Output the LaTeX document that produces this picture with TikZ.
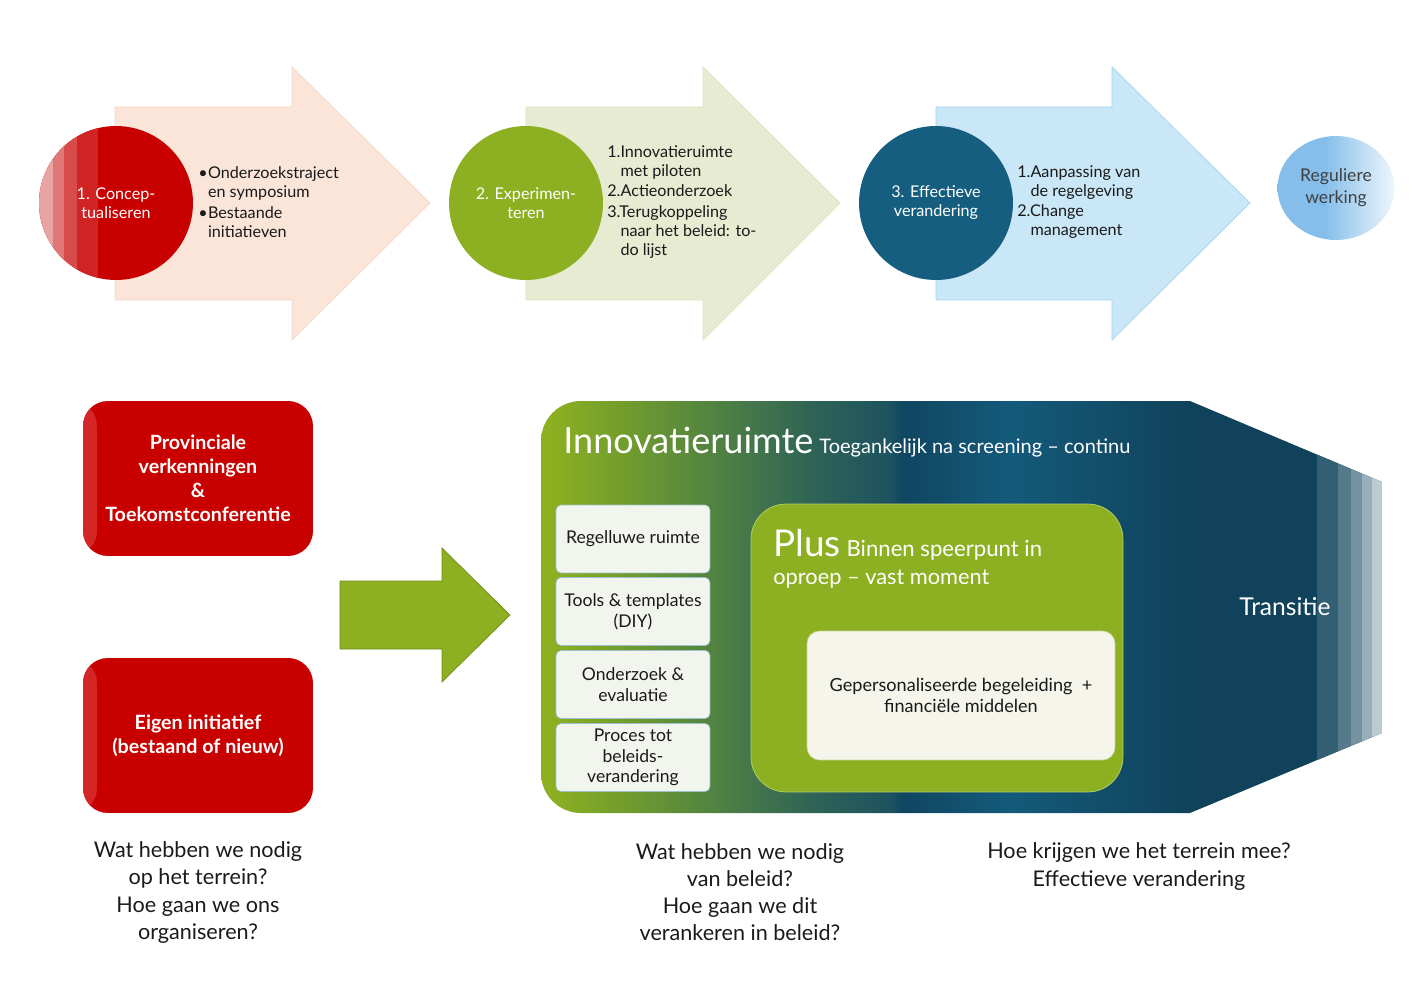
\documentclass[tikz,border=0pt]{standalone}
\usepackage{fontspec}
\setmainfont{Lato}
\usepackage{xcolor}
\usetikzlibrary{positioning, calc, shapes.geometric}

\definecolor{peach}{HTML}{FBE5D9}
\definecolor{peachline}{HTML}{F5D6C6}
\definecolor{sage}{HTML}{E6EBD1}
\definecolor{sageline}{HTML}{DCE3C2}
\definecolor{skyblue}{HTML}{C9E7F7}
\definecolor{skyline}{HTML}{A6D4EE}
\definecolor{vlred}{HTML}{C80000}
\definecolor{redlight}{HTML}{D42626}
\definecolor{redA}{HTML}{E9A3A3}
\definecolor{redB}{HTML}{E07777}
\definecolor{redC}{HTML}{D84B4B}
\definecolor{redD}{HTML}{D02323}
\definecolor{vlgreen}{HTML}{8CB021}
\definecolor{greenline}{HTML}{6F8D1A}
\definecolor{plusline}{HTML}{B7D06E}
\definecolor{vlteal}{HTML}{165E80}
\definecolor{regA}{HTML}{85BEEA}
\definecolor{regB}{HTML}{EEF6FC}
\definecolor{boxfill}{HTML}{F2F4EE}
\definecolor{boxline}{HTML}{9EC0C9}
\definecolor{innerfill}{HTML}{F5F5EC}
\definecolor{innerline}{HTML}{C9D79F}
\definecolor{txt}{HTML}{1A1A1A}
% verloop innovatieruimte
\definecolor{gradA}{HTML}{8DB021}
\definecolor{gradB}{HTML}{6F9B2E}
\definecolor{gradC}{HTML}{4F8143}
\definecolor{gradD}{HTML}{2F6456}
\definecolor{gradE}{HTML}{1D5260}
\definecolor{gradF}{HTML}{104662}
\definecolor{gradG}{HTML}{145A7A}
\definecolor{gradH}{HTML}{10425B}
\definecolor{tstripeA}{HTML}{325F74}
\definecolor{tstripeB}{HTML}{557A8C}
\definecolor{tstripeC}{HTML}{7592A2}
\definecolor{tstripeD}{HTML}{98AEBA}
\definecolor{tstripeE}{HTML}{BCCBD3}

\pgfdeclarehorizontalshading{innofade}{100bp}{color(0bp)=(gradA); color(25.5bp)=(gradA); color(30.3bp)=(gradB); color(35.6bp)=(gradC); color(41bp)=(gradD); color(45.8bp)=(gradE); color(46.5bp)=(gradF); color(52.9bp)=(gradG); color(63.6bp)=(gradH); color(100bp)=(gradH)}
\pgfdeclarehorizontalshading{regfade}{100bp}{color(0bp)=(regA); color(45bp)=(regA); color(75bp)=(regB); color(100bp)=(regB)}

\newcommand{\punt}{\makebox[5.5pt][l]{•}}
\newcommand{\inspr}{\hspace*{5.5pt}}

\tikzset{
  fase/.style={circle, minimum size=3.08cm, inner sep=0pt, text=white, align=center,
    font=\fontsize{9.2}{10.8}\selectfont},
  lijst/.style={anchor=west, align=left, text=txt, inner sep=0pt,
    font=\fontsize{9.2}{10.8}\selectfont},
  rodebox/.style={rounded corners=0.5cm, fill=vlred, minimum width=4.6cm, minimum height=3.1cm,
    text=white, align=center, font=\bfseries\fontsize{11.2}{13.6}\selectfont,
    path picture={\fill[redlight] (path picture bounding box.south west) rectangle
      ([xshift=0.28cm]path picture bounding box.north west);}},
  tegel/.style={draw=boxline, fill=boxfill, rounded corners=0.1cm, minimum width=3.08cm,
    minimum height=1.36cm, align=center, text=txt, inner sep=0pt,
    font=\fontsize{10}{11.8}\selectfont},
  vraag/.style={align=center, text=txt, font=\fontsize{12.3}{15.4}\selectfont}
}

\begin{document}
\begin{tikzpicture}[x=0.02cm, y=-0.02cm]
    \useasboundingbox (0,0) rectangle (1414,1000);

    % fases bovenaan
    \filldraw[fill=peach, draw=peachline] (115,107) -- (292,107) -- (292,67) -- (430,203) -- (292,340) -- (292,300) -- (115,300) -- cycle;
    \filldraw[fill=sage, draw=sageline] (526,107) -- (703,107) -- (703,67) -- (840,203) -- (703,340) -- (703,300) -- (526,300) -- cycle;
    \filldraw[fill=skyblue, draw=skyline] (936,107) -- (1112,107) -- (1112,67) -- (1250,203) -- (1112,340) -- (1112,300) -- (936,300) -- cycle;

    \node[fase, fill=vlred, path picture={
        \foreach \a/\b/\c in {0/0.27/redA, 0.27/0.49/redB, 0.49/0.75/redC, 0.75/1.17/redD}
          \fill[\c] ([xshift=\a cm]path picture bounding box.south west) rectangle ([xshift=\b cm]path picture bounding box.north west);
      }] (fase1) at (116,203) {1. Concep-\\tualiseren};
    \node[fase, fill=vlgreen] (fase2) at (526,203) {2. Experimen-\\teren};
    \node[fase, fill=vlteal] (fase3) at (936,203) {3. Effectieve\\verandering};

    \node[lijst] (lijst1) at (198,202) {\punt Onderzoekstraject\\\inspr en symposium\\[1pt]\punt Bestaande\\\inspr initiatieven};
    \node[lijst] (lijst2) at (607,202) {1.Innovatieruimte\\\phantom{1.}met piloten\\[1pt]2.Actieonderzoek\\[1pt]3.Terugkoppeling\\\phantom{3.}naar het beleid: to-\\\phantom{3.}do lijst};
    \node[lijst] (lijst3) at (1017,202) {1.Aanpassing van\\\phantom{1.}de regelgeving\\[1pt]2.Change\\\phantom{2.}management};

    \node[ellipse, minimum width=2.34cm, minimum height=2.08cm, inner sep=0pt, shading=regfade,
      text=black!75, align=center, font=\fontsize{10}{12.5}\selectfont] (regulier) at (1336,188) {Reguliere\\werking};

    % instroom
    \node[rodebox] (provincie) at (198,478.5) {Provinciale\\verkenningen\\\&\\Toekomstconferentie};
    \node[rodebox] (eigen) at (198,735.5) {Eigen initiatief\\(bestaand of nieuw)};
    \filldraw[fill=vlgreen, draw=greenline] (340,581) -- (442,581) -- (442,548) -- (510,615) -- (442,682) -- (442,649) -- (340,649) -- cycle;

    % innovatieruimte
    \shade[shading=innofade] (1190,813) -- (1100,813) [rounded corners=0.8cm] -- (541,813) -- (541,401) -- (640,401) [sharp corners] -- (1190,401) -- (1382,482) -- (1382,733) -- cycle;
    \begin{scope}
      \clip (1190,401) -- (1382,482) -- (1382,733) -- (1190,813) -- cycle;
      \foreach \a/\b/\c in {1317/1338/tstripeA, 1338/1351/tstripeB, 1351/1362/tstripeC, 1362/1372/tstripeD, 1372/1383/tstripeE}
        \fill[\c] (\a,400) rectangle (\b,815);
    \end{scope}

    \node[anchor=base west, inner sep=0pt, text=white, font=\fontsize{20.5}{24}\selectfont] (titel) at (563,453) {Innovatieruimte};
    \node[anchor=base west, inner sep=0pt, text=white, font=\fontsize{11.4}{13}\selectfont] (toegang) at ([xshift=3pt]titel.base east) {Toegankelijk na screening – continu};

    \node[tegel] (regelluw) at (633,539) {Regelluwe ruimte};
    \node[tegel] (tools) at (633,611.5) {Tools \& templates\\(DIY)};
    \node[tegel] (onderzoek) at (633,684.5) {Onderzoek \&\\evaluatie};
    \node[tegel] (proces) at (633,757.5) {Proces tot\\beleids-\\verandering};

    \node[draw=plusline, fill=vlgreen, rounded corners=0.7cm, minimum width=7.44cm, minimum height=5.76cm] (plus) at (937,648) {};
    \node[anchor=base west, inner sep=0pt, text=white, font=\fontsize{21}{24}\selectfont] (plustitel) at (773,556) {Plus};
    \node[anchor=base west, inner sep=0pt, text=white, font=\fontsize{12.6}{14}\selectfont] (speerpunt) at ([xshift=3pt]plustitel.base east) {Binnen speerpunt in};
    \node[anchor=base west, inner sep=0pt, text=white, font=\fontsize{12.4}{14}\selectfont] (oproep) at (773,584) {oproep – vast moment};
    \node[draw=innerline, fill=innerfill, rounded corners=0.25cm, minimum width=6.16cm, minimum height=2.58cm,
      align=center, text=txt, font=\fontsize{10.3}{11.8}\selectfont] (begeleiding) at (961,695.5) {Gepersonaliseerde begeleiding~~+\\financiële middelen};

    \node[text=white, font=\fontsize{14}{16}\selectfont] (transitie) at (1285,607) {Transitie};

    % vragen onderaan
    \node[vraag] (vraag1) at (198,892.5) {Wat hebben we nodig\\op het terrein?\\Hoe gaan we ons\\organiseren?};
    \node[vraag] (vraag2) at (740,892.5) {Wat hebben we nodig\\van beleid?\\Hoe gaan we dit\\verankeren in beleid?};
    \node[vraag] (vraag3) at (1139,866.5) {Hoe krijgen we het terrein mee?\\Effectieve verandering};
\end{tikzpicture}
\end{document}
